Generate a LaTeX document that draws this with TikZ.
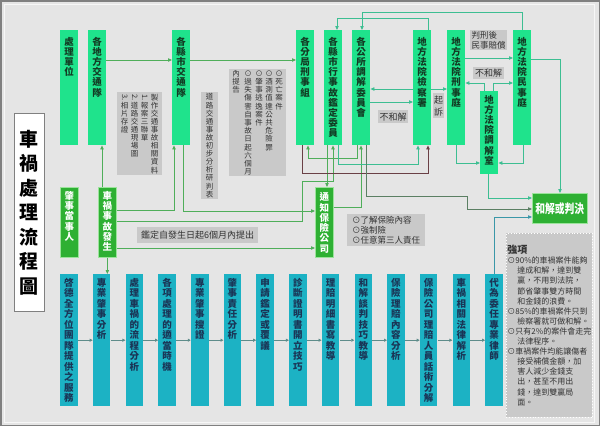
\documentclass[tikz,border=0pt]{standalone}
\usepackage{fontspec}
\setmainfont{Noto Sans CJK TC}
\usepackage{graphicx}
\usepackage{xcolor}
\usepackage{tikz}
\usetikzlibrary{arrows.meta}
\definecolor{PageGray}{HTML}{E5E5E5}
\definecolor{FrameGray}{HTML}{808080}
\definecolor{BoxGreen}{HTML}{1FE38C}
\definecolor{BoxText}{HTML}{123C24}
\definecolor{EvGreen}{HTML}{2EB033}
\definecolor{EvEdge}{HTML}{9BE39B}
\definecolor{StepCyan}{HTML}{1CB2C4}
\definecolor{StepText}{HTML}{1A3556}
\definecolor{NoteGray}{HTML}{C9C9C9}
\definecolor{NoteText}{HTML}{333333}
\definecolor{LineGreen}{HTML}{4FAE5A}
\definecolor{LineTeal}{HTML}{3DBE92}
\definecolor{LineMaroon}{HTML}{6A4046}
\definecolor{LineOlive}{HTML}{5B7F63}
\definecolor{LineBlue}{HTML}{3A97A8}
\definecolor{ChainGray}{HTML}{5E8C8A}
% vertical text: one character per line
\def\vtextloop#1{\ifx\relax#1\else\hbox to 1em{\hss#1\hss\vrule height .88em depth .12em width 0pt}\expandafter\vtextloop\fi}
\newcommand\vtcol[1]{\vtop{\vtextloop#1\relax}}
\newcommand\vcol[3][7pt]{\vbox to #2{\vskip #1\vtextloop#3\relax\vfil}}
\newcommand\rnum[1]{\rotatebox[origin=c]{-90}{#1}}

\begin{document}
\begin{tikzpicture}[x=1pt,y=-1pt,
    topbox/.style={fill=BoxGreen, text=BoxText, inner sep=0pt, anchor=north west,
                   minimum width=18pt, font=\fontsize{9.5}{10.1}\selectfont\bfseries},
    evbox/.style={fill=EvGreen, draw=EvEdge, line width=.7pt, text=white, inner sep=0pt,
                  anchor=north west, minimum width=18pt, font=\fontsize{9.5}{10.3}\selectfont\bfseries},
    stepbox/.style={fill=StepCyan, text=StepText, inner sep=0pt, anchor=north west,
                    minimum width=17.5pt, font=\fontsize{9.5}{10.5}\selectfont\bfseries},
    notebox/.style={fill=NoteGray, text=NoteText, inner sep=0pt, anchor=north west,
                    font=\fontsize{7.5}{8.1}\selectfont},
    tagbox/.style={fill=NoteGray, text=NoteText, inner sep=1pt, anchor=north west,
                   font=\fontsize{9}{10}\selectfont},
    link/.style={line width=.8pt, -{Triangle[length=4pt,width=3.4pt]}},
    arG/.style={link, LineGreen},
    arT/.style={link, LineTeal},
    arM/.style={link, LineMaroon},
    arO/.style={link, LineOlive},
    arB/.style={link, LineBlue},
    ar/.style={link, ChainGray, -{Triangle[length=3pt,width=3pt]}}]
  \useasboundingbox (0,0) rectangle (600,426);
  \fill[PageGray] (0,0) rectangle (600,426);
  \draw[FrameGray, line width=1.5pt] (.75,.75) rectangle (599.25,425.25);
  \draw[white!70!PageGray, line width=.8pt] (4,4) rectangle (594,422);

  % title
  \node[draw=FrameGray, fill=white, line width=.8pt, anchor=north west, inner sep=0pt,
        minimum width=30pt, minimum height=198pt,
        font=\fontsize{19}{24.5}\selectfont\bfseries]
    (title) at (14,113) {\vtcol{車禍處理流程圖}};

  % handling units
  \node[topbox] (unit)  at (60,30)  {\vcol{115pt}{處理單位}};
  \node[topbox] (tpA)   at (88,30)  {\vcol{115pt}{各地方交通隊}};
  \node[topbox] (tpB)   at (172,30) {\vcol{115pt}{各縣市交通隊}};
  \node[topbox] (crim)  at (296,30) {\vcol{115pt}{各分局刑事組}};
  \node[topbox] (appr)  at (324,30) {\vcol{115pt}{各縣市行事故鑑定委員}};
  \node[topbox] (medi)  at (352,30) {\vcol{115pt}{各公所調解委員會}};
  \node[topbox] (pros)  at (413,30) {\vcol{115pt}{地方法院檢察署}};
  \node[topbox] (ccrt)  at (447,30) {\vcol{115pt}{地方法院刑事庭}};
  \node[topbox] (vcrt)  at (513,30) {\vcol{115pt}{地方法院民事庭}};
  \node[topbox] (mroom) at (480,91) {\vcol[4pt]{83pt}{地方法院調解室}};

  % events
  \node[evbox] (party) at (60,187)  {\vcol[3.5pt]{70pt}{肇事當事人}};
  \node[evbox] (acc)   at (98,187)  {\vcol[3.5pt]{70pt}{車禍事故發生}};
  \node[evbox] (insr)  at (315,187) {\vcol[5pt]{70pt}{通知保險公司}};
  \node[evbox, minimum width=55pt, minimum height=30pt,
        font=\fontsize{12.5}{13}\selectfont\bfseries]
    (judg) at (532,193) {\scalebox{.78}[1]{和解或判決}};

  % notes
  \node[notebox, minimum width=45pt, minimum height=83pt] (nData) at (117,92)
    {\vtcol{{\rnum{3.}}相片存證}\hspace{2.5pt}\vtcol{{\rnum{2.}}道路交通現場圖}\hspace{2.5pt}%
     \vtcol{{\rnum{1.}}報案三聯單}\hspace{2.5pt}\vtcol{製作交通事故相關資料}};
  \node[notebox, minimum width=17pt, minimum height=107pt] (nForm) at (201,92)
    {\vtcol{道路交通事故初步分析研判表}};
  \node[notebox, minimum width=57pt, minimum height=107pt,
        font=\fontsize{7.5}{8.2}\selectfont] (nCase) at (229,69)
    {\vtcol{內提告}\hspace{4.5pt}\vtcol{⊙過失傷害自事故日起六個月}\hspace{3.5pt}%
     \vtcol{⊙肇事逃逸案件}\hspace{2.5pt}\vtcol{⊙酒測值達公共危險罪}\hspace{2.5pt}\vtcol{⊙死亡案件}};
  \node[tagbox, minimum width=121pt, minimum height=16pt] (nLimit) at (137,227)
    {鑑定自發生日起6個月內提出};
  \node[tagbox, minimum width=78pt, minimum height=32pt, align=left,
        font=\fontsize{8.5}{10}\selectfont] (nIns) at (347,214)
    {⊙了解保險內容\\⊙強制險\\⊙任意第三人責任};
  \node[tagbox, minimum width=30pt, minimum height=13pt] (nNo1) at (378,110) {不和解};
  \node[tagbox, minimum width=11pt, minimum height=25pt, inner sep=0pt,
        font=\fontsize{9}{12}\selectfont] (nSue) at (433,93) {\vtcol{起訴}};
  \node[tagbox, minimum width=37pt, minimum height=20pt, align=left,
        font=\fontsize{8.5}{9.5}\selectfont] (nCivil) at (470,30) {判刑後\\民事賠償};
  \node[tagbox, minimum width=31pt, minimum height=12pt] (nNo2) at (473,67) {不和解};
  \node[draw=white, dotted, line width=.9pt, fill=NoteGray, text=NoteText, anchor=north west,
        minimum width=86pt, minimum height=184pt, text width=84pt, inner sep=1pt, align=left,
        font=\fontsize{8}{10.1}\selectfont] (nStr) at (506,233)
    {{\fontsize{10}{12}\selectfont\bfseries 強項}\\
     ⊙90\%的車禍案件能夠\\
     \hspace*{1.25em}達成和解，達到雙\\
     \hspace*{1.25em}贏，不用到法院，\\
     \hspace*{1.25em}節省肇事雙方時間\\
     \hspace*{1.25em}和金錢的浪費。\\
     ⊙85\%的車禍案件只到\\
     \hspace*{1.25em}檢察署就可做和解。\\
     ⊙只有2\%的案件會走完\\
     \hspace*{1.25em}法律程序。\\
     ⊙車禍案件均能讓傷者\\
     \hspace*{1.25em}接受補償金額，加\\
     \hspace*{1.25em}害人減少金錢支\\
     \hspace*{1.25em}出，甚至不用出\\
     \hspace*{1.25em}錢，達到雙贏局\\
     \hspace*{1.25em}面。};

  % service steps
  \node[stepbox] (s1)  at (60,274)    {\vcol[3.5pt]{132pt}{啓德全方位團隊提供之服務}};
  \node[stepbox] (s2)  at (92.7,274)  {\vcol[3.5pt]{132pt}{專業肇事分析}};
  \node[stepbox] (s3)  at (125.4,274) {\vcol[3.5pt]{132pt}{處理車禍的流程分析}};
  \node[stepbox] (s4)  at (158.1,274) {\vcol[3.5pt]{132pt}{各項處理的適當時機}};
  \node[stepbox] (s5)  at (190.8,274) {\vcol[3.5pt]{132pt}{專業肇事搜證}};
  \node[stepbox] (s6)  at (223.5,274) {\vcol[3.5pt]{132pt}{肇事責任分析}};
  \node[stepbox] (s7)  at (256.2,274) {\vcol[3.5pt]{132pt}{申請鑑定或覆議}};
  \node[stepbox] (s8)  at (288.9,274) {\vcol[3.5pt]{132pt}{診斷證明書開立技巧}};
  \node[stepbox] (s9)  at (321.6,274) {\vcol[3.5pt]{132pt}{理賠明細書寫教導}};
  \node[stepbox] (s10) at (354.3,274) {\vcol[3.5pt]{132pt}{和解談判技巧教導}};
  \node[stepbox] (s11) at (387,274)   {\vcol[3.5pt]{132pt}{保險理賠內容分析}};
  \node[stepbox] (s12) at (419.7,274) {\vcol[3.5pt]{132pt}{保險公司理賠人員話術分解}};
  \node[stepbox] (s13) at (452.4,274) {\vcol[3.5pt]{132pt}{車禍相關法律解析}};
  \node[stepbox] (s14) at (485.1,274) {\vcol[3.5pt]{132pt}{代為委任專業律師}};
  \draw[ar](s1)--(s2); \draw[ar](s2)--(s3); \draw[ar](s3)--(s4); \draw[ar](s4)--(s5);
  \draw[ar](s5)--(s6); \draw[ar](s6)--(s7); \draw[ar](s7)--(s8); \draw[ar](s8)--(s9);
  \draw[ar](s9)--(s10); \draw[ar](s10)--(s11); \draw[ar](s11)--(s12); \draw[ar](s12)--(s13);
  \draw[ar](s13)--(s14);

  % left side links
  \draw[arG] (tpA.east |- 0,60) -- (tpB.west |- 0,60);
  \draw[arG] (tpB.east |- 0,60) -- (crim.west |- 0,60);
  \draw[arG] (acc.north -| 102,0) -- (tpA.south -| 102,0);
  \draw[arG] (acc.east |- 0,210) -| (tpB.south -| 174,0);
  \draw[arG] (tpB.south -| 183,0) |- (insr.west |- 0,211);
  \draw[arG] (acc.east |- 0,221) -| (302,181) -| (appr.south -| 333,0);
  \draw[arG] (acc.east |- 0,248) -- (insr.west |- 0,248);
  \draw[arG] (appr.south -| 327,0) -- (insr.north -| 327,0);
  \draw[arG] (insr.east |- 0,207) -| (medi.south -| 361,0);
  \draw[arG] (medi.south -| 357,0) |- (308,158) -- (crim.south -| 308,0);
  \draw[arG] (acc.south) -- (acc.south |- s2.north);

  % court links
  \draw[arM] (crim.south -| 302,0) |- (428,173) -- (pros.south -| 428,0);
  \draw[arT] (appr.south -| 338,0) |- (418,164) -- (pros.south -| 418,0);
  \draw[arO] (medi.south -| 366,0) |- (467,196) |- (judg.west |- 0,209);
  \draw[arT] (pros.west |- 0,89) -- (medi.east |- 0,89);
  \draw[arT] (medi.east |- 0,102) -- (pros.west |- 0,102);
  \draw[arT] (pros.east |- 0,89) -- (ccrt.west |- 0,89);
  \draw[arT] (ccrt.east |- 0,58) -- (vcrt.west |- 0,58);
  \draw[arT] (mroom.north -| 484,0) |- (ccrt.east |- 0,83);
  \draw[arT] (mroom.north -| 493,0) |- (vcrt.west |- 0,83);
  \draw[arT] (ccrt.south -| 456,0) |- (mroom.west |- 0,163);
  \draw[arT] (vcrt.south -| 523,0) |- (mroom.east |- 0,163);
  \draw[arT] (mroom.south -| 488,0) |- (judg.west |- 0,198);
  \draw[arT] (vcrt.east |- 0,59) -| (judg.north -| 560,0);
  \draw[arT] (pros.north -| 428,0) |- (337,18) -- (appr.north -| 337,0);
  \draw[arT] (vcrt.north -| 522,0) |- (362,12) -- (medi.north -| 362,0);
  \draw[arB] (s14.north) |- (judg.west |- 0,217);
\end{tikzpicture}
\end{document}
